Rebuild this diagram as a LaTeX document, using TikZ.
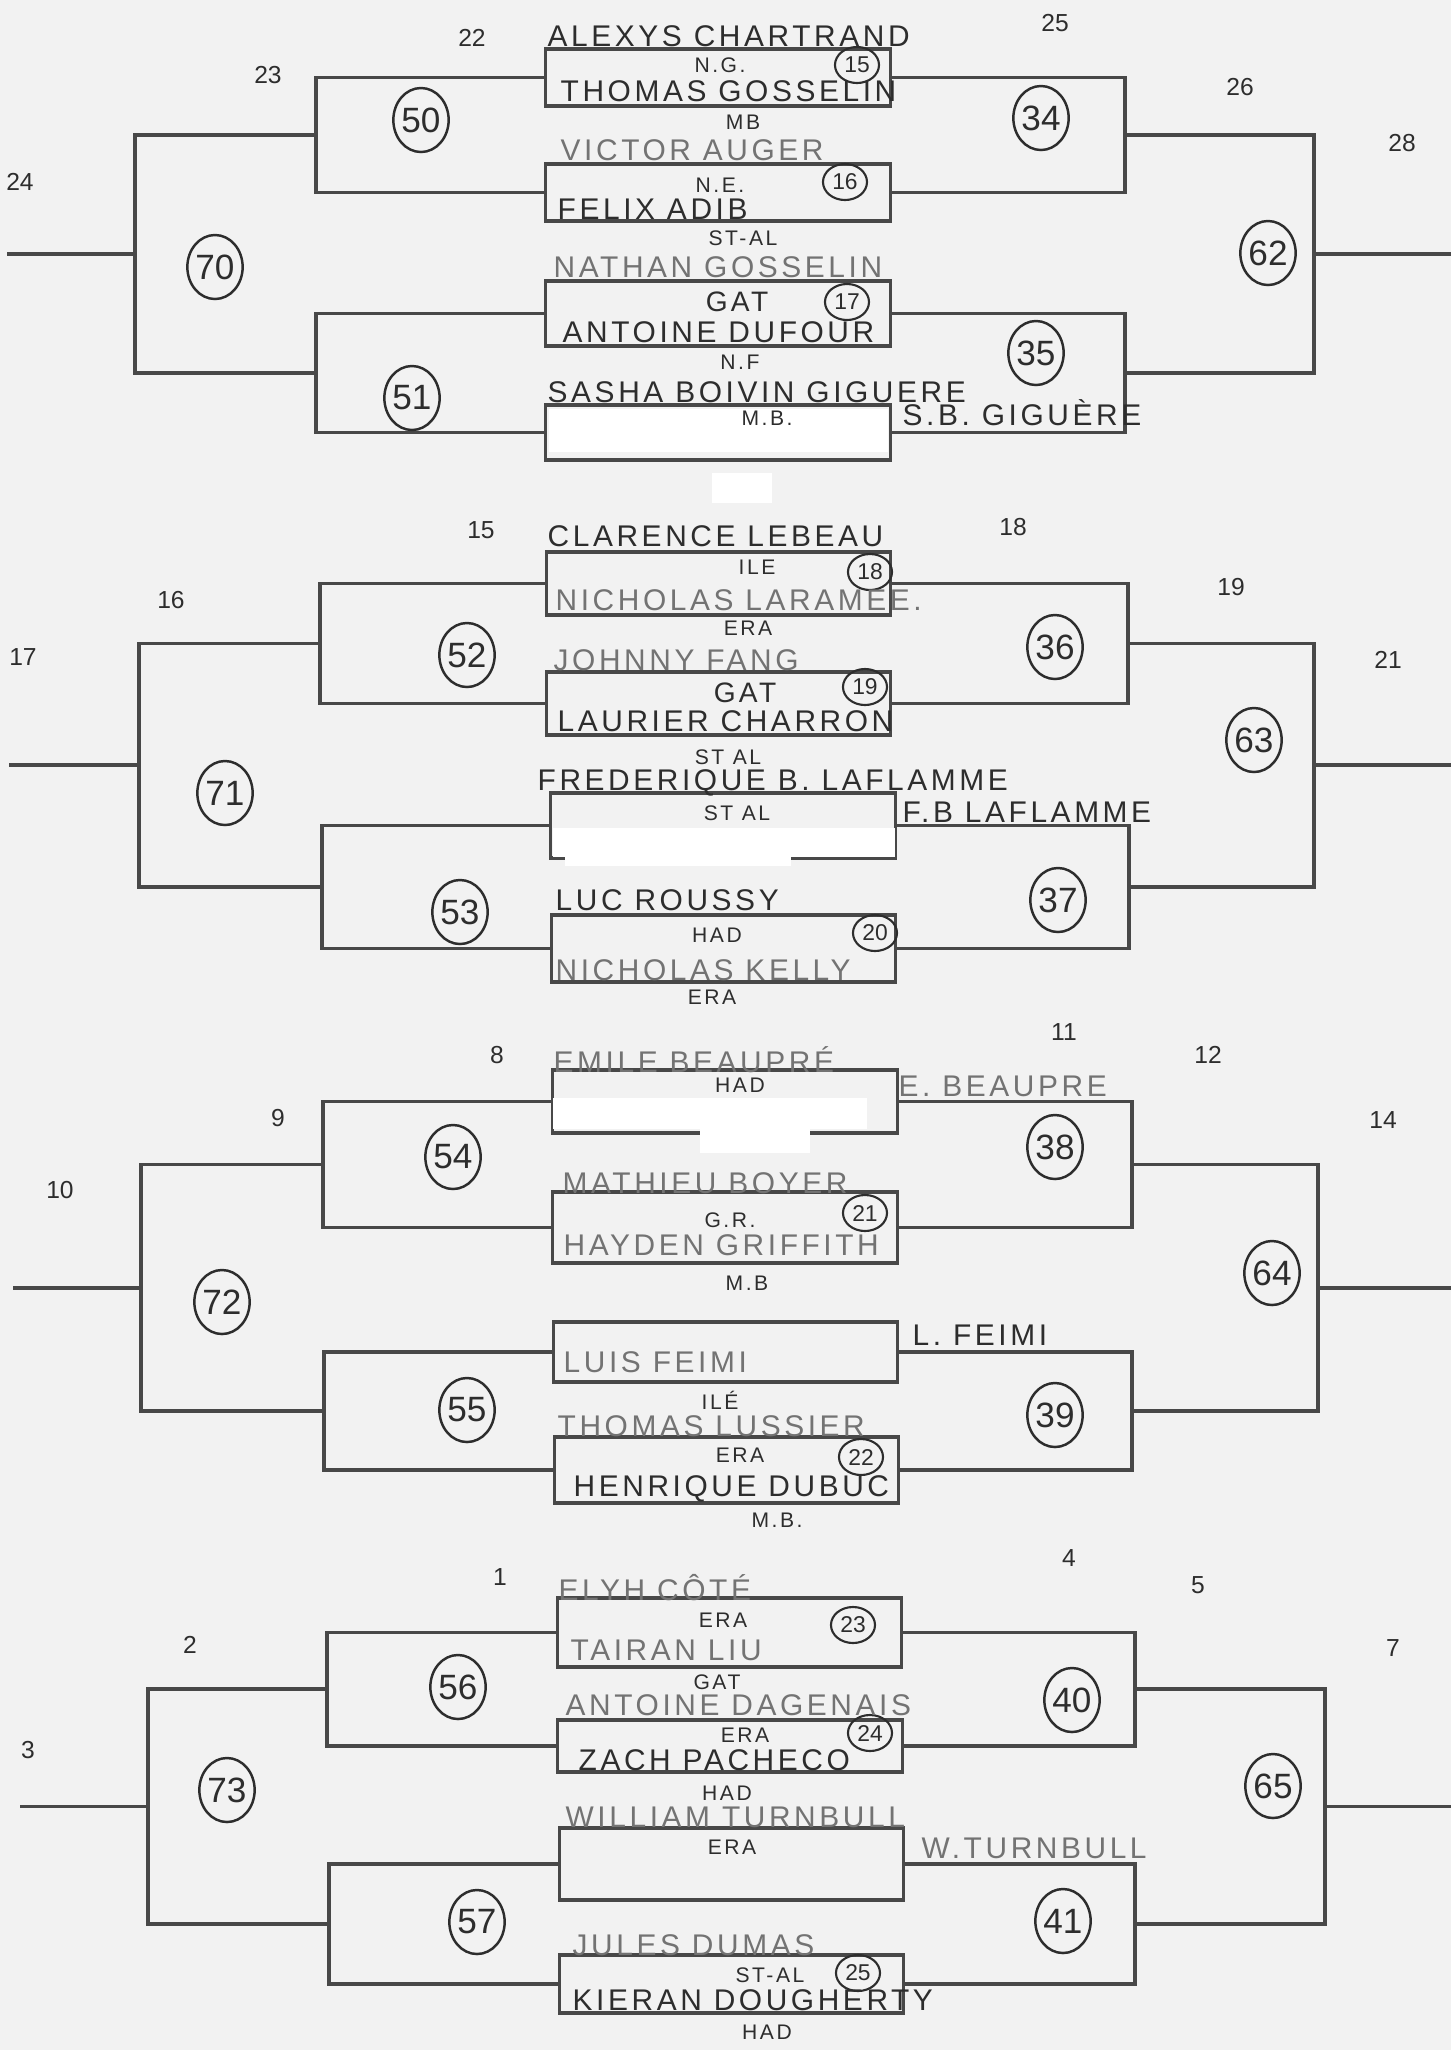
\documentclass[tikz,border=0pt]{standalone}
\usepackage{fontspec}
\setmainfont{Liberation Sans}
\newfontfamily\hand{Liberation Sans}[LetterSpace=12.0]
\usetikzlibrary{shapes.geometric}
\definecolor{paper}{RGB}{242,242,242}
\definecolor{lead}{RGB}{72,72,72}
\definecolor{ink}{RGB}{45,45,45}
\definecolor{pencil}{RGB}{115,115,115}
\tikzset{
    slot/.style={rectangle, draw=lead, line width=0.9pt, minimum width=3.44cm, inner sep=0pt},
    link/.style={draw=lead, line width=0.9pt},
    player/.style={anchor=base west, inner sep=0pt, text=ink, font=\hand\fontsize{8.5}{8.5}\selectfont},
    faint/.style={text=pencil},
    club/.style={inner sep=0pt, text=ink, font=\hand\fontsize{6}{6}\selectfont},
    big/.style={font=\hand\fontsize{8}{8}\selectfont},
    ring/.style={ellipse, draw=ink, line width=0.6pt, minimum width=0.44cm, minimum height=0.36cm, inner sep=0pt, text=ink, font=\fontsize{6.5}{6.5}\selectfont},
    game/.style={ellipse, draw=ink, line width=0.7pt, minimum width=0.48cm, minimum height=0.64cm, inner sep=0pt, text=ink, font=\fontsize{10}{10}\selectfont},
    tag/.style={inner sep=0pt, text=ink, font=\fontsize{7}{7}\selectfont},
}

\begin{document}
\begin{tikzpicture}[x=0.01cm, y=-0.01cm]
    \fill[paper] (0,0) rectangle (1451,2050);
    \useasboundingbox (0,0) rectangle (1451,2050);

    % first-round boxes
    \node[slot, minimum height=0.57cm] (b15) at (718,77.5) {};
    \node[slot, minimum height=0.57cm] (b16) at (718,192.5) {};
    \node[slot, minimum height=0.65cm] (b17) at (718,313.5) {};
    \node[slot, minimum height=0.55cm] (bx1) at (718,432.5) {};
    \node[slot, minimum height=0.63cm] (b18) at (718.5,583.5) {};
    \node[slot, minimum height=0.63cm] (b19) at (718.5,703.5) {};
    \node[slot, minimum height=0.65cm] (bx2) at (723,825.5) {};
    \node[slot, minimum height=0.67cm] (b20) at (723.5,948.5) {};
    \node[slot, minimum height=0.63cm] (bx3) at (725,1101.5) {};
    \node[slot, minimum height=0.71cm] (b21) at (725,1227.5) {};
    \node[slot, minimum height=0.60cm] (bx4) at (725.5,1352) {};
    \node[slot, minimum height=0.66cm] (b22) at (726.5,1470) {};
    \node[slot, minimum height=0.69cm] (b23) at (729.5,1632.5) {};
    \node[slot, minimum height=0.52cm] (b24) at (730,1746) {};
    \node[slot, minimum height=0.72cm] (bx5) at (731.5,1864) {};
    \node[slot, minimum height=0.58cm] (b25) at (731.5,1984) {};

    % blanked out parts
    \fill[white] (549,409) rectangle (888,452);
    \fill[white] (712,473) rectangle (772,503);
    \fill[white] (553,828) rectangle (895,857);
    \fill[white] (565,855) rectangle (791,866);
    \fill[white] (553,1098) rectangle (867,1129);
    \fill[white] (700,1129) rectangle (810,1153);

    % bracket joints
    \coordinate (k50) at (316,135);
    \coordinate (k51) at (316,373);
    \coordinate (k70) at (135,254);
    \coordinate (e70) at (7,254);
    \coordinate (k34) at (1125,135);
    \coordinate (k35) at (1125,373);
    \coordinate (k62) at (1314,254);
    \coordinate (e62) at (1451,254);
    \coordinate (k52) at (320,643.5);
    \coordinate (k53) at (322,887);
    \coordinate (k71) at (139,765);
    \coordinate (e71) at (9,765);
    \coordinate (k36) at (1128,643.5);
    \coordinate (k37) at (1129,887);
    \coordinate (k63) at (1314,765);
    \coordinate (e63) at (1451,765);
    \coordinate (k54) at (323,1164.5);
    \coordinate (k55) at (324,1411);
    \coordinate (k72) at (141,1288);
    \coordinate (e72) at (13,1288);
    \coordinate (k38) at (1132,1164.5);
    \coordinate (k39) at (1132,1411);
    \coordinate (k64) at (1318,1288);
    \coordinate (e64) at (1451,1288);
    \coordinate (k56) at (327,1689);
    \coordinate (k57) at (329,1924);
    \coordinate (k73) at (148,1806.5);
    \coordinate (e73) at (20,1806.5);
    \coordinate (k40) at (1135,1689);
    \coordinate (k41) at (1135,1924);
    \coordinate (k65) at (1325,1806.5);
    \coordinate (e65) at (1451,1806.5);

    \foreach \a/\b/\l/\r in {b15/b16/50/34, b17/bx1/51/35, b18/b19/52/36, bx2/b20/53/37,
                             bx3/b21/54/38, bx4/b22/55/39, b23/b24/56/40, bx5/b25/57/41}
    {
        \draw[link] (\a.west) -| (k\l) |- (\b.west);
        \draw[link] (\a.east) -| (k\r) |- (\b.east);
    }
    \foreach \a/\b/\l/\r/\m/\n in {50/51/70/62/34/35, 52/53/71/63/36/37,
                                   54/55/72/64/38/39, 56/57/73/65/40/41}
    {
        \draw[link] (k\a) -| (k\l) |- (k\b);
        \draw[link] (k\l) -- (e\l);
        \draw[link] (k\m) -| (k\r) |- (k\n);
        \draw[link] (k\r) -- (e\r);
    }

    % game numbers
    \node[game] (g50) at (421,120) {50};
    \node[game] (g51) at (412,398) {51};
    \node[game] (g70) at (215,267) {70};
    \node[game] (g34) at (1041,118) {34};
    \node[game] (g35) at (1036,353) {35};
    \node[game] (g62) at (1268,253) {62};
    \node[game] (g52) at (467,655) {52};
    \node[game] (g53) at (460,912) {53};
    \node[game] (g71) at (225,793) {71};
    \node[game] (g36) at (1055,647) {36};
    \node[game] (g37) at (1058,900) {37};
    \node[game] (g63) at (1254,740) {63};
    \node[game] (g54) at (453,1157) {54};
    \node[game] (g55) at (467,1410) {55};
    \node[game] (g72) at (222,1302) {72};
    \node[game] (g38) at (1055,1147) {38};
    \node[game] (g39) at (1055,1415) {39};
    \node[game] (g64) at (1272,1273) {64};
    \node[game] (g56) at (458,1687) {56};
    \node[game] (g57) at (477,1922) {57};
    \node[game] (g73) at (227,1790) {73};
    \node[game] (g40) at (1072,1700) {40};
    \node[game] (g41) at (1063,1921) {41};
    \node[game] (g65) at (1273,1786) {65};

    % numbers in the boxes
    \foreach \n/\x/\y in {15/857/65, 16/845/182, 17/847/302, 18/870/572, 19/865/687,
                          20/875/933, 21/865/1213, 22/861/1457, 23/853/1625, 24/870/1733, 25/858/1973}
        \node[ring] (r\n) at (\x,\y) {\n};

    % slot numbers
    \foreach \n/\x/\y in {22/472/38, 23/268/75, 24/20/182, 25/1055/23, 26/1240/87, 28/1402/143,
                          15/481/530, 16/171/600, 17/23/657, 18/1013/527, 19/1231/587, 21/1388/660,
                          8/497/1055, 9/278/1118, 10/60/1190, 11/1064/1032, 12/1208/1055, 14/1383/1120,
                          1/500/1577, 2/190/1645, 3/28/1750, 4/1069/1558, 5/1198/1585, 7/1393/1648}
        \node[tag] (s\n) at (\x,\y) {\n};

    % players
    \node[player] (p1) at (547,46) {ALEXYS CHARTRAND};
    \node[player] (p2) at (560,101) {THOMAS GOSSELIN};
    \node[player, faint] (p3) at (560,160) {VICTOR AUGER};
    \node[player] (p4) at (557,219) {FELIX ADIB};
    \node[player, faint] (p5) at (553,277) {NATHAN GOSSELIN};
    \node[player] (p6) at (562,342) {ANTOINE DUFOUR};
    \node[player] (p7) at (547,402) {SASHA BOIVIN GIGUERE};
    \node[player] (p8) at (902,425) {S.B. GIGUÈRE};
    \node[player] (p9) at (547,546) {CLARENCE LEBEAU};
    \node[player, faint] (p10) at (555,610) {NICHOLAS LARAMEE.};
    \node[player, faint] (p11) at (553,670) {JOHNNY FANG};
    \node[player] (p12) at (557,731) {LAURIER CHARRON};
    \node[player] (p13) at (537,790) {FREDERIQUE B. LAFLAMME};
    \node[player] (p14) at (902,822) {F.B LAFLAMME};
    \node[player] (p15) at (555,910) {LUC ROUSSY};
    \node[player, faint] (p16) at (555,980) {NICHOLAS KELLY};
    \node[player, faint] (p17) at (553,1072) {EMILE BEAUPRÉ};
    \node[player, faint] (p18) at (898,1096) {E. BEAUPRE};
    \node[player, faint] (p19) at (562,1193) {MATHIEU BOYER};
    \node[player, faint] (p20) at (563,1255) {HAYDEN GRIFFITH};
    \node[player, faint] (p21) at (563,1372) {LUIS FEIMI};
    \node[player] (p22) at (912,1345) {L. FEIMI};
    \node[player, faint] (p23) at (557,1436) {THOMAS LUSSIER};
    \node[player] (p24) at (573,1496) {HENRIQUE DUBUC};
    \node[player, faint] (p25) at (558,1600) {ELYH CÔTÉ};
    \node[player, faint] (p26) at (570,1660) {TAIRAN LIU};
    \node[player, faint] (p27) at (565,1715) {ANTOINE DAGENAIS};
    \node[player] (p28) at (578,1770) {ZACH PACHECO};
    \node[player, faint] (p29) at (565,1827) {WILLIAM TURNBULL};
    \node[player, faint] (p30) at (921,1858) {W.TURNBULL};
    \node[player, faint] (p31) at (572,1955) {JULES DUMAS};
    \node[player] (p32) at (572,2010) {KIERAN DOUGHERTY};

    % clubs
    \node[club] (c1) at (720,65) {N.G.};
    \node[club] (c2) at (743,122) {MB};
    \node[club] (c3) at (720,185) {N.E.};
    \node[club] (c4) at (743,238) {ST-AL};
    \node[club, big] (c5) at (737,302) {GAT};
    \node[club] (c6) at (740,362) {N.F};
    \node[club] (c7) at (767,418) {M.B.};
    \node[club] (c8) at (757,567) {ILE};
    \node[club] (c9) at (748,628) {ERA};
    \node[club, big] (c10) at (745,693) {GAT};
    \node[club] (c11) at (728,757) {ST AL};
    \node[club] (c12) at (737,813) {ST AL};
    \node[club] (c13) at (717,935) {HAD};
    \node[club] (c14) at (712,997) {ERA};
    \node[club] (c15) at (740,1085) {HAD};
    \node[club] (c16) at (730,1220) {G.R.};
    \node[club] (c17) at (747,1283) {M.B};
    \node[club] (c18) at (720,1400) {ILÉ};
    \node[club] (c19) at (740,1455) {ERA};
    \node[club] (c20) at (777,1520) {M.B.};
    \node[club] (c21) at (723,1620) {ERA};
    \node[club] (c22) at (717,1682) {GAT};
    \node[club] (c23) at (745,1735) {ERA};
    \node[club] (c24) at (727,1793) {HAD};
    \node[club] (c25) at (732,1847) {ERA};
    \node[club] (c26) at (770,1975) {ST-AL};
    \node[club] (c27) at (767,2032) {HAD};
\end{tikzpicture}
\end{document}
